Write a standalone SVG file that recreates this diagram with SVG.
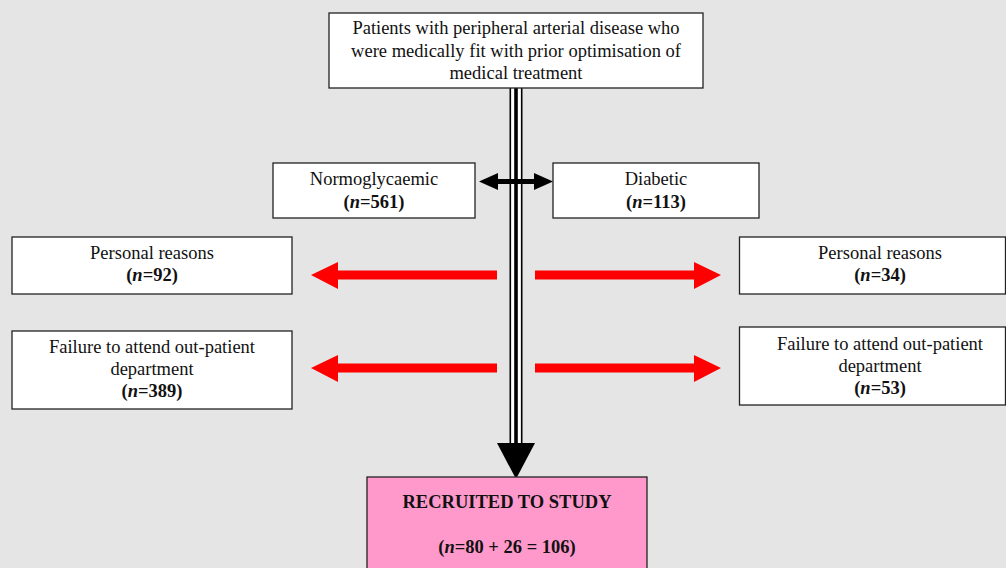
<svg xmlns="http://www.w3.org/2000/svg" width="1006" height="568" viewBox="0 0 1006 568">
<style>
.box{fill:#fff;stroke:#222;stroke-width:1.3}
.pink{fill:#ff99cc;stroke:#222;stroke-width:1.3}
text{font-family:"Liberation Serif","Times New Roman",serif;font-size:18.5px;fill:#111;text-anchor:middle}
.b{font-weight:bold}
.red{fill:#ff0000}
</style>
<rect width="1006" height="568" fill="#e5e5e5"/>
<g id="connectors">
  <rect x="510" y="88" width="12" height="356" fill="#fff"/>
  <rect x="509.5" y="88" width="1.6" height="356" fill="#000"/>
  <rect x="514.2" y="88" width="3.6" height="356" fill="#000"/>
  <rect x="520.9" y="88" width="1.6" height="356" fill="#000"/>
  <polygon points="497,443 535,443 516,479" fill="#000"/>
  <polygon points="479,181.5 498,173 498,179 534,179 534,173 553,181.5 534,190 534,184 498,184 498,190" fill="#000"/>
  <polygon class="red" points="311,275 338,262 338,270.5 497,270.5 497,279.5 338,279.5 338,289"/>
  <polygon class="red" points="721,275 694,262 694,270.5 535,270.5 535,279.5 694,279.5 694,289"/>
  <polygon class="red" points="311,368 338,355 338,363.5 497,363.5 497,372.5 338,372.5 338,382"/>
  <polygon class="red" points="721,368 694,355 694,363.5 535,363.5 535,372.5 694,372.5 694,382"/>
</g>
<g id="start">
  <rect class="box" x="329" y="13" width="374" height="75"/>
  <text x="516" y="34">Patients with peripheral arterial disease who</text>
  <text x="516" y="57">were medically fit with prior optimisation of</text>
  <text x="516" y="79">medical treatment</text>
</g>
<g id="normo">
  <rect class="box" x="273" y="163" width="202" height="55"/>
  <text x="374" y="185">Normoglycaemic</text>
  <text x="374" y="208" class="b">(<tspan font-style="italic">n</tspan>=561)</text>
</g>
<g id="diabetic">
  <rect class="box" x="553" y="163" width="206" height="55"/>
  <text x="656" y="185">Diabetic</text>
  <text x="656" y="208" class="b">(<tspan font-style="italic">n</tspan>=113)</text>
</g>
<g id="personal-left">
  <rect class="box" x="12" y="237" width="280" height="57"/>
  <text x="152" y="259">Personal reasons</text>
  <text x="152" y="281" class="b">(<tspan font-style="italic">n</tspan>=92)</text>
</g>
<g id="personal-right">
  <rect class="box" x="739.5" y="237" width="266" height="57"/>
  <text x="880" y="259">Personal reasons</text>
  <text x="880" y="281" class="b">(<tspan font-style="italic">n</tspan>=34)</text>
</g>
<g id="failure-left">
  <rect class="box" x="12" y="331" width="280" height="78"/>
  <text x="152" y="353">Failure to attend out-patient</text>
  <text x="152" y="375">department</text>
  <text x="152" y="397" class="b">(<tspan font-style="italic">n</tspan>=389)</text>
</g>
<g id="failure-right">
  <rect class="box" x="739.5" y="327" width="266" height="78"/>
  <text x="880" y="350">Failure to attend out-patient</text>
  <text x="880" y="372">department</text>
  <text x="880" y="394" class="b">(<tspan font-style="italic">n</tspan>=53)</text>
</g>
<g id="recruited">
  <rect class="pink" x="367" y="477" width="280" height="100"/>
  <text x="507" y="508" class="b">RECRUITED TO STUDY</text>
  <text x="507" y="553" class="b">(<tspan font-style="italic">n</tspan>=80 + 26 = 106)</text>
</g>
</svg>
